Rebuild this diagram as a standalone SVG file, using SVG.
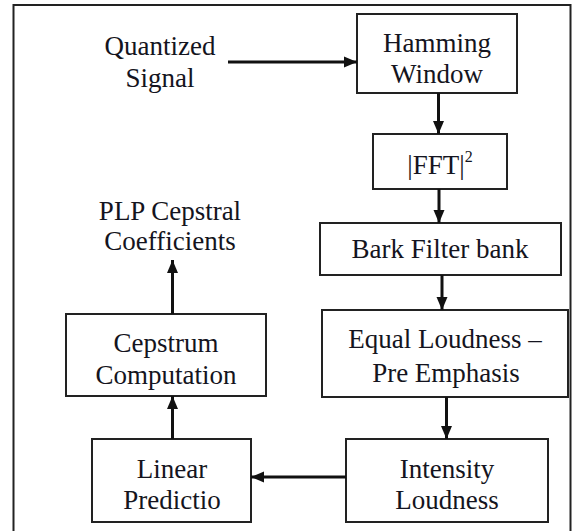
<svg xmlns="http://www.w3.org/2000/svg" width="574" height="531" viewBox="0 0 574 531">
<defs>
<style>
.box{fill:#fff;stroke:#222;stroke-width:2}
.t{font-size:27px;fill:#141420;text-anchor:middle}
.c{stroke:#111;stroke-width:3;fill:none}
</style>
<marker id="ah" markerUnits="userSpaceOnUse" markerWidth="14" markerHeight="14" viewBox="0 0 14 14" refX="13" refY="7" orient="auto">
<path d="M0,1.5 L13,7 L0,12.5 Z" fill="#111"/>
</marker>
</defs>
<rect width="574" height="531" fill="#fff"/>
<rect x="13.5" y="5" width="557" height="540" fill="none" stroke="#222" stroke-width="2"/>
<g font-family="Liberation Serif, DejaVu Serif, serif">
<g id="quantized">
<text class="t" x="160" y="55">Quantized</text>
<text class="t" x="160" y="87">Signal</text>
</g>
<g id="hamming">
<rect class="box" x="357" y="14" width="160" height="79"/>
<text class="t" x="437" y="52">Hamming</text>
<text class="t" x="437" y="83">Window</text>
</g>
<g id="fft">
<rect class="box" x="373" y="134" width="134" height="55"/>
<text class="t" x="440" y="174">|FFT|<tspan font-size="16" dy="-12">2</tspan></text>
</g>
<g id="bark">
<rect class="box" x="320" y="223" width="241" height="52"/>
<text class="t" x="440" y="258">Bark Filter bank</text>
</g>
<g id="equal">
<rect class="box" x="322" y="310" width="246" height="87"/>
<text class="t" x="445" y="348">Equal Loudness –</text>
<text class="t" x="446" y="382">Pre Emphasis</text>
</g>
<g id="intensity">
<rect class="box" x="346" y="439" width="202" height="83"/>
<text class="t" x="447" y="478">Intensity</text>
<text class="t" x="447" y="509">Loudness</text>
</g>
<g id="linear">
<rect class="box" x="92" y="439" width="159" height="83"/>
<text class="t" x="172" y="478">Linear</text>
<text class="t" x="172" y="509">Predictio</text>
</g>
<g id="cepstrum">
<rect class="box" x="66" y="314" width="200" height="82"/>
<text class="t" x="166" y="352">Cepstrum</text>
<text class="t" x="166" y="384">Computation</text>
</g>
<g id="plp">
<text class="t" x="170" y="220">PLP Cepstral</text>
<text class="t" x="170" y="250">Coefficients</text>
</g>
</g>
<g id="connectors">
<line class="c" x1="228" y1="62" x2="357" y2="62" marker-end="url(#ah)"/>
<line class="c" x1="438.5" y1="93" x2="438.5" y2="134" marker-end="url(#ah)"/>
<line class="c" x1="439" y1="189" x2="439" y2="223" marker-end="url(#ah)"/>
<line class="c" x1="442" y1="275" x2="442" y2="310" marker-end="url(#ah)"/>
<line class="c" x1="446.5" y1="397" x2="446.5" y2="439" marker-end="url(#ah)"/>
<line class="c" x1="346" y1="477" x2="251" y2="477" marker-end="url(#ah)"/>
<line class="c" x1="172.5" y1="439" x2="172.5" y2="396" marker-end="url(#ah)"/>
<line class="c" x1="172.5" y1="314" x2="172.5" y2="260" marker-end="url(#ah)"/>
</g>
</svg>
